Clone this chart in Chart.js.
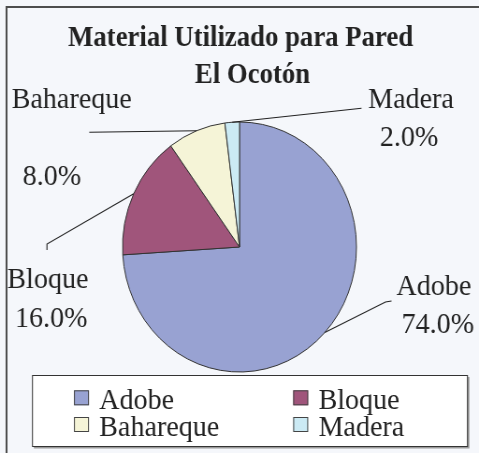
<!DOCTYPE html>
<html>
<head>
<meta charset="utf-8">
<script src="https://cdn.jsdelivr.net/npm/chart.js@4"></script>
<style>
  html, body { margin: 0; padding: 0; background: #f5f7fb; overflow: hidden; }
  #grafico { width: 479px !important; height: 453px !important; }
</style>
</head>
<body>
<canvas id="grafico" width="512" height="453" style="width:479px;height:453px"></canvas>
<script>
const categorias = ["Adobe", "Bloque", "Bahareque", "Madera"];
const porcentajes = [74.0, 16.0, 8.0, 2.0];
const colores = ["#98a2d2", "#a0557b", "#f5f4d7", "#cbeaf4"];
const tituloLineas = ["Material Utilizado para Pared", "El Ocotón"];

// el gráfico original está un poco comprimido en horizontal:
// se dibuja a 512 de ancho y se muestra a 479 px
const fondo = "#f5f7fb";
const tinta = "#222222";
const fuente = "'Liberation Serif', 'Times New Roman', serif";

// posición de cada etiqueta (nombre y porcentaje) y quiebre de la línea guía
const etiquetas = [
  { nombre: [423.8, 295], pct: [429.2, 333], guia: [[418.5, 301], [412, 302]] },
  { nombre: [7.8, 288], pct: [16, 327], guia: [[50.2, 250], [50.2, 244]] },
  { nombre: [12.5, 108], pct: [24.3, 185], guia: [[95.4, 132.3]] },
  { nombre: [393.5, 108], pct: [406, 146], guia: [[386.4, 108.3]] }
];

const decoracion = {
  id: "decoracion",
  beforeDraw(chart) {
    const ctx = chart.ctx;
    const W = chart.width, H = chart.height;
    ctx.save();
    ctx.fillStyle = fondo;
    ctx.fillRect(0, 0, W, H);
    // marco del área del gráfico
    ctx.strokeStyle = "#4d4d4d";
    ctx.lineWidth = 2;
    ctx.beginPath();
    ctx.moveTo(7, H + 2);
    ctx.lineTo(7, 7);
    ctx.lineTo(W + 2, 7);
    ctx.stroke();
    ctx.restore();
  },
  afterDraw(chart) {
    const ctx = chart.ctx;
    const meta = chart.getDatasetMeta(0);
    ctx.save();

    // título
    ctx.fillStyle = tinta;
    ctx.textAlign = "center";
    ctx.textBaseline = "alphabetic";
    ctx.font = "bold 28.6px " + fuente;
    ctx.fillText(tituloLineas[0], 257.2, 45.7);
    ctx.fillText(tituloLineas[1], 269.9, 82.7);

    // líneas guía y etiquetas
    ctx.font = "30px " + fuente;
    ctx.textAlign = "left";
    ctx.strokeStyle = "#222";
    ctx.lineWidth = 1.1;
    meta.data.forEach((arc, i) => {
      const p = arc.getProps(["x", "y", "startAngle", "endAngle", "outerRadius"], true);
      const medio = (p.startAngle + p.endAngle) / 2;
      const bx = p.x + Math.cos(medio) * p.outerRadius;
      const by = p.y + Math.sin(medio) * p.outerRadius;
      const et = etiquetas[i];
      ctx.beginPath();
      ctx.moveTo(et.guia[0][0], et.guia[0][1]);
      for (let k = 1; k < et.guia.length; k++) ctx.lineTo(et.guia[k][0], et.guia[k][1]);
      ctx.lineTo(bx, by);
      ctx.stroke();
      ctx.fillText(categorias[i], et.nombre[0], et.nombre[1]);
      ctx.fillText(porcentajes[i].toFixed(1) + "%", et.pct[0], et.pct[1]);
    });

    // leyenda
    const caja = { x: 34.2, y: 375, w: 465, h: 71 };
    ctx.fillStyle = "#ffffff";
    ctx.fillRect(caja.x, caja.y, caja.w, caja.h);
    ctx.strokeStyle = "#9a9a9a";
    ctx.lineWidth = 2;
    ctx.beginPath();
    ctx.moveTo(caja.x + caja.w + 1.5, caja.y + 2);
    ctx.lineTo(caja.x + caja.w + 1.5, caja.y + caja.h + 1.5);
    ctx.lineTo(caja.x + 2, caja.y + caja.h + 1.5);
    ctx.stroke();
    ctx.strokeStyle = "#333";
    ctx.lineWidth = 1;
    ctx.strokeRect(caja.x + 0.5, caja.y + 0.5, caja.w, caja.h);

    const columnas = [79.1, 313.4];
    const filas = [409.3, 436];
    categorias.forEach((c, i) => {
      const cx = columnas[i % 2];
      const base = filas[Math.floor(i / 2)];
      ctx.fillStyle = colores[i];
      ctx.fillRect(cx, base - 19, 16, 15);
      ctx.strokeStyle = "#444";
      ctx.strokeRect(cx + 0.5, base - 18.5, 15, 14);
      ctx.fillStyle = tinta;
      ctx.fillText(c, cx + 27, base);
    });
    ctx.restore();
  }
};

new Chart(document.getElementById("grafico"), {
  type: "pie",
  data: {
    labels: categorias,
    datasets: [{
      data: porcentajes,
      backgroundColor: colores,
      borderColor: "#333333",
      borderWidth: 1
    }]
  },
  options: {
    responsive: false,
    animation: false,
    devicePixelRatio: 1,
    layout: { padding: { left: 130.5, right: 130.5, top: 121.5, bottom: 80.5 } },
    plugins: {
      legend: { display: false },
      title: { display: false },
      tooltip: { enabled: false }
    }
  },
  plugins: [decoracion]
});
</script>
</body>
</html>
